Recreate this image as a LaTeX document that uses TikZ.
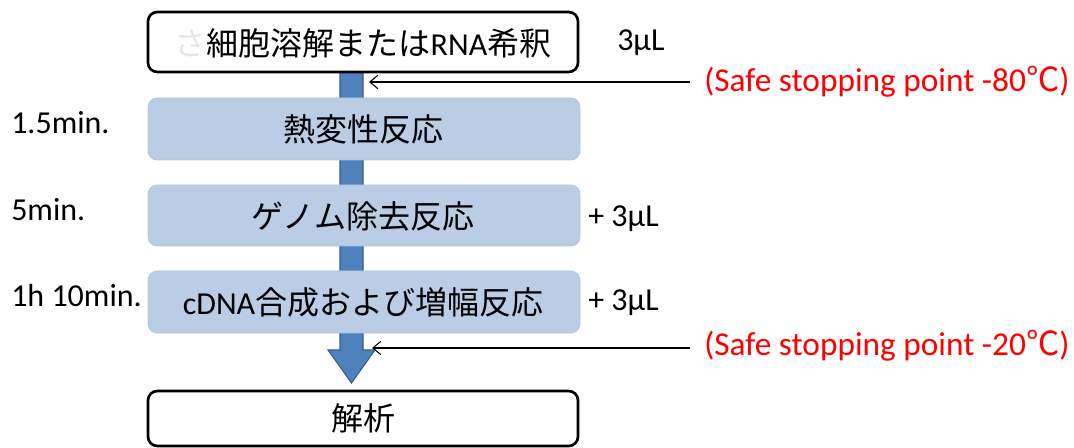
\documentclass[tikz,border=0pt]{standalone}
\usepackage{fontspec}
\setmainfont{Carlito}
\newfontfamily\cjk{Noto Sans CJK JP}
\usetikzlibrary{arrows.meta}
\definecolor{boxfill}{HTML}{B9CDE5}
\definecolor{boxedge}{HTML}{AFC4DF}
\definecolor{shaftfill}{HTML}{4F81BD}
\definecolor{shaftedge}{HTML}{385D8A}
\definecolor{stopred}{HTML}{FF0000}
\definecolor{faint}{HTML}{E6E6E6}
\tikzset{
  whitebox/.style={draw=black, line width=2pt, fill=white, rounded corners=7pt},
  graybox/.style={draw=boxedge, line width=0.6pt, fill=boxfill, rounded corners=7pt},
  boxtext/.style={font=\cjk\fontsize{24}{28}\selectfont, inner sep=0pt},
  sidelabel/.style={font=\fontsize{24}{28}\selectfont, anchor=base west, inner sep=0pt},
  redlabel/.style={font=\fontsize{25}{30}\selectfont, text=stopred, anchor=base west, inner sep=0pt},
  thinarrow/.style={line width=0.8pt, -{Straight Barb[length=6pt,width=10pt,line width=0.8pt]}},
}
\begin{document}
\begin{tikzpicture}[x=0.75pt,y=-0.75pt]
\useasboundingbox (0,0) rectangle (1074,448);
% big downward arrow
\draw[fill=shaftfill, draw=shaftedge, line width=0.8pt]
  (340,72) -- (363,72) -- (363,350) -- (375,350) -- (351.5,383) -- (328,350) -- (340,350) -- cycle;
% boxes
\draw[whitebox] (148,12) rectangle (578,72);
\node[boxtext] (lysis) at (363,43) {{\color{faint}さ}細胞溶解または{\rmfamily RNA}希釈};
\draw[graybox] (148,98) rectangle (580,160);
\node[boxtext] (denat) at (363,129) {熱変性反応};
\draw[graybox] (148,185) rectangle (580,246);
\node[boxtext] (genome) at (363,216) {ゲノム除去反応};
\draw[graybox] (148,271) rectangle (580,333);
\node[boxtext] (cdna) at (363,302) {{\rmfamily cDNA}合成および増幅反応};
\draw[whitebox] (148,391) rectangle (578,446);
\node[boxtext] (anal) at (363,418) {解析};
% side labels
\node[sidelabel] (t1) at (11,134) {1.5min.};
\node[sidelabel] (t2) at (11,221) {5min.};
\node[sidelabel] (t3) at (11,307) {1h 10min.};
\node[sidelabel] (v1) at (617,51) {3μL};
\node[sidelabel] (v2) at (588,227) {+ 3μL};
\node[sidelabel] (v3) at (588,311) {+ 3μL};
% red labels
\node[redlabel] (s80) at (704,92) {(Safe stopping point -80{\cjk ℃})};
\node[redlabel] (s20) at (704,356) {(Safe stopping point -20{\cjk ℃})};
% thin arrows
\coordinate (p80) at (369,82);
\coordinate (p20) at (372,348);
\draw[thinarrow] (s80.west |- 0,82) ++(-14,0) -- (p80);
\draw[thinarrow] (s20.west |- 0,348) ++(-14,0) -- (p20);
\end{tikzpicture}
\end{document}
